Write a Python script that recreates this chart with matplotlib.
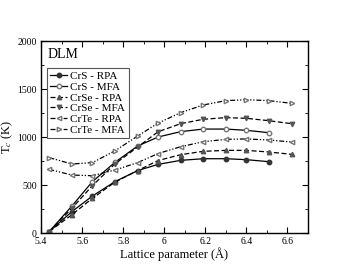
import matplotlib
matplotlib.use("Agg")
import matplotlib.pyplot as plt
from matplotlib.ticker import MultipleLocator

plt.rcParams['font.family'] = ['Liberation Serif', 'DejaVu Serif']
plt.rcParams['mathtext.fontset'] = 'stix'

# lattice parameters (A)
a = [5.44, 5.55, 5.65, 5.76, 5.87, 5.97, 6.08, 6.19, 6.30, 6.40, 6.51, 6.62]

crs_rpa = [15, 222, 385, 535, 650, 715, 757, 774, 774, 764, 743]
crs_mfa = [15, 280, 535, 736, 906, 1000, 1056, 1083, 1083, 1070, 1045]
crse_rpa = [15, 190, 361, 530, 650, 755, 816, 851, 861, 861, 844, 820]
crse_mfa = [15, 257, 493, 720, 895, 1055, 1139, 1185, 1202, 1195, 1170, 1139]
crte_rpa = [663, 604, 597, 656, 733, 828, 899, 951, 976, 980, 969, 948]
crte_mfa = [785, 719, 733, 856, 1010, 1145, 1254, 1334, 1379, 1389, 1379, 1351]

fig = plt.figure(figsize=(3.49, 2.70), dpi=100)
ax = fig.add_axes([0.1175, 0.137, 0.765, 0.711])

ms = 3.2
dd = (4, 1.5, 1, 1.5, 1, 1.5)
ax.plot(a[:len(crs_rpa)], crs_rpa, '-', color='black', lw=0.9, marker='o',
        ms=ms, mfc='#333333', mec='#333333', label='CrS - RPA')
ax.plot(a[:len(crs_mfa)], crs_mfa, '-', color='black', lw=0.9, marker='o',
        ms=ms, mfc='white', mec='#777777', label='CrS - MFA')
ax.plot(a, crse_rpa, '--', color='black', lw=0.9, marker='^',
        ms=ms, mfc='#555555', mec='#555555', label='CrSe - RPA', dashes=(4, 2))
ax.plot(a, crse_mfa, '--', color='black', lw=0.9, marker='v',
        ms=ms, mfc='#555555', mec='#555555', label='CrSe - MFA', dashes=(4, 2))
ax.plot(a, crte_rpa, color='black', lw=0.9, marker='<', ms=ms,
        mfc='white', mec='#777777', label='CrTe - RPA', dashes=dd)
ax.plot(a, crte_mfa, color='black', lw=0.9, marker='>', ms=ms,
        mfc='white', mec='#777777', label='CrTe - MFA', dashes=dd)

ax.set_xlim(5.4, 6.7)
ax.set_ylim(0, 2000)
ax.xaxis.set_minor_locator(MultipleLocator(0.1))
ax.yaxis.set_major_locator(MultipleLocator(500))
ax.yaxis.set_minor_locator(MultipleLocator(250))
ax.set_xticks([5.4, 5.6, 5.8, 6.0, 6.2, 6.4, 6.6])
ax.set_xticklabels(['5.4', '5.6', '5.8', '6', '6.2', '6.4', '6.6'])
ax.tick_params(which='both', direction='in', top=True, right=True, labelsize=7)
ax.tick_params(axis='x', pad=3)
ax.tick_params(axis='y', pad=3)
ax.tick_params(which='major', length=4)
ax.tick_params(which='minor', length=2)
for s in ax.spines.values():
    s.set_linewidth(1.0)

ax.set_xlabel('Lattice parameter (Å)', fontsize=9, labelpad=1)
ax.set_ylabel('T$_c$ (K)', fontsize=9, labelpad=2)
ax.text(0.025, 0.965, 'DLM', transform=ax.transAxes, fontsize=10, va='top', ha='left')

leg = ax.legend(loc='upper left', bbox_to_anchor=(0.023, 0.859), fontsize=8,
                handlelength=1.5, handletextpad=0.3, labelspacing=0.08,
                borderpad=0.3, borderaxespad=0, fancybox=False, framealpha=1)
leg.get_frame().set_edgecolor('#555555')
leg.get_frame().set_linewidth(0.8)

fig.savefig('out.png', dpi=100)
